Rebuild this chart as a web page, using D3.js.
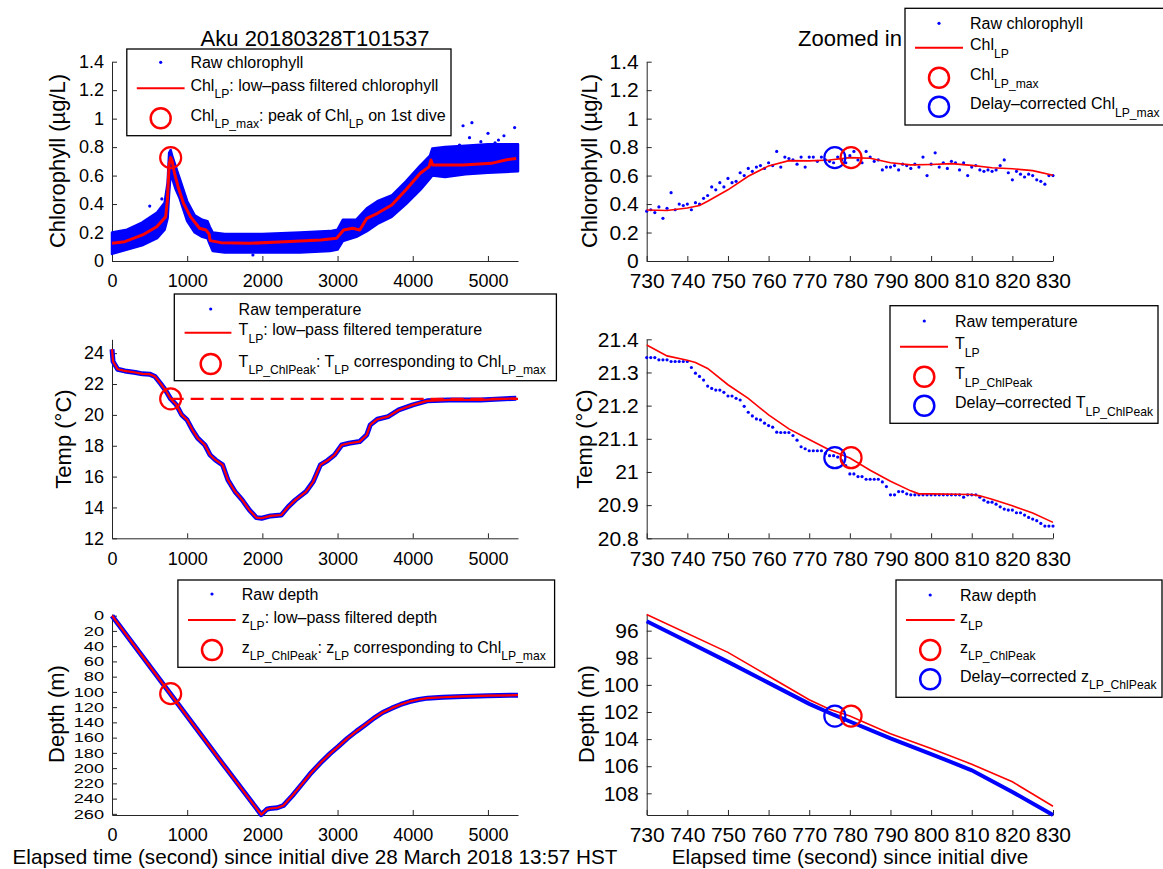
<!DOCTYPE html>
<html>
<head>
<meta charset="utf-8">
<script src="https://cdn.jsdelivr.net/npm/d3@7"></script>
<style>
  html, body { margin: 0; padding: 0; background: #fff; }
  svg { display: block; font-family: "Liberation Sans", Arial, Helvetica, sans-serif; }
</style>
</head>
<body>
<svg id="fig" width="1163" height="869"></svg>
<script>
// ---------- tick labels ----------
const fullTimeTicks = [0, 1000, 2000, 3000, 4000, 5000];
const zoomTimeTicks = [730, 740, 750, 760, 770, 780, 790, 800, 810, 820, 830];
const chlTicks = [0, 0.2, 0.4, 0.6, 0.8, 1, 1.2, 1.4];
const tempTicksFull = [12, 14, 16, 18, 20, 22, 24];
const tempTicksZoom = [20.8, 20.9, 21, 21.1, 21.2, 21.3, 21.4];
const depthTicksFull = [0, 20, 40, 60, 80, 100, 120, 140, 160, 180, 200, 220, 240, 260];
const depthTicksZoom = [96, 98, 100, 102, 104, 106, 108];

// ---------- whole dive: raw chlorophyll spread (lower / upper edge of the cloud) ----------
const chlCloudTime = [0, 200, 400, 600, 700, 740, 760, 780, 800, 850, 900, 1000, 1100, 1200, 1270, 1300, 1340, 1500, 2000, 2500, 2900, 3000, 3070, 3250, 3390, 3530, 3720, 3910, 4100, 4230, 4260, 4430, 4700, 5000, 5400];
const chlCloudLow  = [0.05, 0.08, 0.11, 0.16, 0.22, 0.30, 0.48, 0.62, 0.58, 0.50, 0.44, 0.28, 0.20, 0.17, 0.16, 0.12, 0.07, 0.06, 0.06, 0.06, 0.07, 0.08, 0.14, 0.17, 0.21, 0.26, 0.31, 0.40, 0.50, 0.58, 0.60, 0.59, 0.61, 0.62, 0.63];
const chlCloudHigh = [0.20, 0.22, 0.27, 0.34, 0.41, 0.55, 0.76, 0.78, 0.74, 0.66, 0.58, 0.42, 0.32, 0.29, 0.28, 0.24, 0.20, 0.19, 0.19, 0.20, 0.21, 0.22, 0.29, 0.29, 0.37, 0.42, 0.46, 0.56, 0.67, 0.74, 0.79, 0.80, 0.81, 0.82, 0.82];
// isolated raw chlorophyll samples outside the main cloud
const chlOutlierTime  = [502, 663, 1874, 4395, 4622, 4669, 4755, 4787, 4906, 5001, 5095, 5140, 5213, 5355];
const chlOutlierValue = [0.386, 0.436, 0.042, 0.787, 0.815, 0.95, 0.866, 0.972, 0.838, 0.897, 0.83, 0.85, 0.88, 0.937];

// ---------- whole dive: low-pass filtered chlorophyll ----------
const chlLPTime  = [0, 170, 406, 595, 714, 737, 760, 780, 800, 832, 880, 951, 1046, 1164, 1249, 1290, 1306, 1448, 1827, 2300, 2774, 2987, 3081, 3200, 3295, 3390, 3531, 3721, 3910, 4100, 4218, 4242, 4265, 4668, 5045, 5234, 5376];
const chlLPValue = [0.124, 0.136, 0.183, 0.241, 0.31, 0.43, 0.68, 0.726, 0.70, 0.616, 0.52, 0.405, 0.31, 0.23, 0.218, 0.19, 0.143, 0.129, 0.124, 0.136, 0.148, 0.16, 0.218, 0.23, 0.218, 0.30, 0.335, 0.393, 0.50, 0.616, 0.663, 0.71, 0.674, 0.674, 0.686, 0.71, 0.72];

// ---------- whole dive: temperature ----------
const tempTime  = [0, 14, 75, 170, 312, 406, 501, 572, 643, 714, 780, 856, 927, 998, 1069, 1140, 1235, 1305, 1376, 1471, 1542, 1636, 1731, 1826, 1920, 1991, 2109, 2251, 2346, 2440, 2582, 2677, 2772, 2866, 2961, 3056, 3151, 3293, 3388, 3435, 3530, 3672, 3814, 4003, 4192, 4476, 4903, 5377];
const tempValue = [24.26, 23.46, 22.96, 22.85, 22.75, 22.66, 22.64, 22.49, 22.05, 21.58, 21.04, 20.65, 20.0, 19.68, 19.03, 18.49, 18.05, 17.4, 17.08, 16.76, 15.78, 15.03, 14.49, 13.84, 13.34, 13.3, 13.45, 13.51, 14.05, 14.49, 15.03, 15.68, 16.76, 17.04, 17.41, 18.05, 18.16, 18.27, 18.7, 19.35, 19.72, 19.89, 20.32, 20.65, 20.91, 20.97, 20.97, 21.08];

// ---------- whole dive: depth ----------
const depthTime  = [0, 500, 1000, 1500, 1985, 2060, 2100, 2200, 2280, 2400, 2538, 2650, 2775, 2900, 3012, 3130, 3249, 3370, 3485, 3600, 3722, 3840, 3959, 4080, 4196, 4400, 4670, 5000, 5400];
const depthValue = [0, 66, 132, 198, 261, 254, 253, 252, 249, 236, 219.5, 206, 193, 181, 171.5, 161, 151.8, 143, 134.4, 127, 121.3, 116.5, 112.6, 110, 108.2, 107, 106, 105, 104.3];

// ---------- peak of the low-pass chlorophyll on the first dive ----------
const peakTime = 780.3;           // time of Chl_LP_max
const peakTimeCorrected = 776.3;  // after sensor delay correction
const peakChl = 0.726;
const peakTemp = 21.043;
const peakDepth = 102.3;

// ---------- zoomed window, 1 Hz samples ----------
const zoomTime = [730,731,732,733,734,735,736,737,738,739,740,741,742,743,744,745,746,747,748,749,750,751,752,753,754,755,756,757,758,759,760,761,762,763,764,765,766,767,768,769,770,771,772,773,774,775,776,777,778,779,780,781,782,783,784,785,786,787,788,789,790,791,792,793,794,795,796,797,798,799,800,801,802,803,804,805,806,807,808,809,810,811,812,813,814,815,816,817,818,819,820,821,822,823,824,825,826,827,828,829,830];
const chlRawZoom = [
  0.35,0.36,0.34,0.38,0.30,0.37,0.48,0.36,0.40,0.39,
  0.40,0.36,0.41,0.40,0.44,0.46,0.52,0.50,0.55,0.52,
  0.58,0.55,0.56,0.62,0.60,0.65,0.63,0.66,0.67,0.65,
  0.69,0.67,0.77,0.66,0.73,0.72,0.71,0.68,0.73,0.66,
  0.73,0.73,0.70,0.73,0.71,0.70,0.69,0.73,0.71,0.69,
  0.74,0.77,0.71,0.69,0.77,0.73,0.70,0.71,0.64,0.66,
  0.66,0.67,0.64,0.68,0.67,0.65,0.68,0.66,0.73,0.60,
  0.68,0.76,0.66,0.69,0.65,0.70,0.69,0.64,0.69,0.60,
  0.66,0.67,0.64,0.63,0.64,0.63,0.64,0.67,0.71,0.62,
  0.57,0.63,0.61,0.59,0.61,0.60,0.57,0.56,0.54,0.60,
  0.60];
const tempRawZoom = [
  21.345,21.345,21.345,21.338,21.338,21.338,21.333,21.333,21.333,21.333,
  21.333,21.315,21.298,21.288,21.277,21.259,21.252,21.247,21.247,21.240,
  21.229,21.229,21.222,21.217,21.198,21.180,21.169,21.160,21.157,21.147,
  21.140,21.135,21.120,21.119,21.119,21.119,21.110,21.096,21.076,21.070,
  21.064,21.064,21.064,21.064,21.056,21.049,21.049,21.045,21.034,21.019,
  20.994,20.994,20.986,20.986,20.978,20.978,20.978,20.978,20.970,20.956,
  20.931,20.931,20.941,20.941,20.934,20.931,20.931,20.931,20.931,20.931,
  20.931,20.931,20.931,20.931,20.931,20.931,20.931,20.931,20.924,20.931,
  20.931,20.931,20.924,20.915,20.909,20.909,20.903,20.895,20.888,20.885,
  20.885,20.877,20.877,20.870,20.863,20.858,20.853,20.845,20.837,20.837,
  20.837];

// low-pass curves in the zoomed window
const chlLPZoomTime  = [730, 735, 740, 743, 745, 750, 755, 760, 765, 770, 775, 780, 785, 790, 795, 800, 805, 810, 815, 820, 825, 830];
const chlLPZoomValue = [0.358, 0.355, 0.372, 0.39, 0.42, 0.50, 0.595, 0.668, 0.705, 0.703, 0.710, 0.726, 0.722, 0.690, 0.675, 0.678, 0.684, 0.672, 0.655, 0.648, 0.635, 0.602];
const tempLPZoomTime  = [730, 735, 740, 742, 745, 750, 755, 760, 765, 770, 775, 780, 785, 790, 795, 797, 800, 810, 812, 815, 820, 825, 830];
const tempLPZoomValue = [21.383, 21.350, 21.337, 21.330, 21.312, 21.263, 21.222, 21.172, 21.130, 21.098, 21.066, 21.042, 21.005, 20.972, 20.943, 20.934, 20.934, 20.932, 20.928, 20.918, 20.898, 20.876, 20.848];
const depthRawZoomTime  = [730, 740, 750, 760, 770, 776, 780, 790, 800, 810, 820, 830];
const depthRawZoomValue = [95.3, 96.8, 98.3, 99.85, 101.4, 102.2, 102.7, 103.95, 105.1, 106.3, 107.9, 109.6];
const depthLPZoomTime  = [730, 750, 770, 775, 780, 790, 800, 810, 820, 830];
const depthLPZoomValue = [94.8, 97.6, 101.1, 101.8, 102.3, 103.6, 104.7, 105.85, 107.15, 108.95];

// ---------- drawing ----------
const BLUE = "#0000ff", RED = "#ff0000", AXIS = "#262626";
const svg = d3.select("#fig");
const fmt = d3.format("~g");

const xFull = d3.scaleLinear().domain([0, 5400]).range([112, 518]);
const xZoom = d3.scaleLinear().domain([730, 830]).range([646.7, 1053]);

const yChlL = d3.scaleLinear().domain([0, 1.4]).range([261, 61.7]);
const yChlR = d3.scaleLinear().domain([0, 1.4]).range([261, 61.7]);
const yTempL = d3.scaleLinear().domain([12, 24.9]).range([538.3, 339.3]);
const yTempR = d3.scaleLinear().domain([20.8, 21.4]).range([538.3, 339.3]);
const yDepthL = d3.scaleLinear().domain([-2.2, 261.5]).range([614, 815]);
const yDepthR = d3.scaleLinear().domain([94.77, 109.6]).range([614, 815]);

// opts.yFont / opts.yStretch let densely packed y labels use a narrower line height
function drawAxes(x, y, xTicks, yTicks, fontSize, opts) {
  opts = opts || {};
  const bottom = Math.max(...y.range());
  const gx = svg.append("g")
    .attr("transform", `translate(0,${bottom})`)
    .call(d3.axisBottom(x).tickValues(xTicks).tickSize(-5).tickSizeOuter(0)
      .tickPadding(20 - fontSize * 0.355).tickFormat(fmt));
  const gy = svg.append("g")
    .attr("transform", `translate(${x.range()[0]},0)`)
    .call(d3.axisLeft(y).tickValues(yTicks).tickSize(-5).tickSizeOuter(0)
      .tickPadding(8).tickFormat(fmt));
  [gx, gy].forEach(g => {
    g.attr("font-family", null).attr("font-size", null);
    g.selectAll("path, line").attr("stroke", AXIS).attr("stroke-width", 1);
    g.selectAll("text").attr("fill", "#000").style("font-size", fontSize + "px");
  });
  if (opts.yFont) {
    gy.selectAll("text").style("font-size", opts.yFont + "px")
      .attr("x", 0).attr("transform", `translate(-8,0) scale(${opts.yStretch || 1},1)`);
  }
}

function line(x, y, t, v) {
  return d3.line().x((d, i) => x(t[i])).y((d, i) => y(v[i]))(t);
}

function richText(g, x, y, str, size, anchor) {
  const hasSub = str.includes("_{");
  const t = g.append("text").attr("x", x).attr("y", y + (hasSub ? -3 : 0))
    .attr("dy", "0.35em").attr("text-anchor", anchor || "start")
    .style("font-size", size + "px").attr("fill", "#000");
  const shift = size * 0.45;
  let inSub = false;
  str.split(/(_\{[^}]*\})/).forEach(p => {
    if (!p) return;
    if (p.startsWith("_{")) {
      t.append("tspan").attr("dy", inSub ? 0 : shift)
        .style("font-size", (size * 0.76) + "px").text(p.slice(2, -1));
      inSub = true;
    } else {
      const ts = t.append("tspan").text(p);
      if (inSub) ts.attr("dy", -shift);
      inSub = false;
    }
  });
  return t;
}

function legend(cfg) {
  const g = svg.append("g");
  const [x0, y0, x1, y1] = cfg.box;
  g.append("rect").attr("x", x0).attr("y", y0).attr("width", x1 - x0).attr("height", y1 - y0)
    .attr("fill", "#fff").attr("stroke", "#000").attr("stroke-width", 1.3);
  cfg.entries.forEach(e => {
    if (e.type === "dot") {
      g.append("circle").attr("cx", cfg.markX).attr("cy", e.y).attr("r", 1.6).attr("fill", BLUE);
    } else if (e.type === "line") {
      g.append("line").attr("x1", cfg.lineX[0]).attr("x2", cfg.lineX[1])
        .attr("y1", e.y).attr("y2", e.y).attr("stroke", RED).attr("stroke-width", 2);
    } else {
      g.append("circle").attr("cx", cfg.markX).attr("cy", e.y).attr("r", 10)
        .attr("fill", "none").attr("stroke", e.color).attr("stroke-width", 2.5);
    }
    richText(g, cfg.textX, e.y, e.label, cfg.font);
  });
}

function ring(x, y, cx, cy, color) {
  svg.append("circle").attr("cx", x(cx)).attr("cy", y(cy)).attr("r", 10.5)
    .attr("fill", "none").attr("stroke", color).attr("stroke-width", 2.2);
}

// ----- top left: chlorophyll, whole dive -----
drawAxes(xFull, yChlL, fullTimeTicks, chlTicks, 18);
svg.append("path")
  .attr("d", d3.area().x((d, i) => xFull(chlCloudTime[i]))
    .y0((d, i) => yChlL(chlCloudLow[i])).y1((d, i) => yChlL(chlCloudHigh[i]))(chlCloudTime))
  .attr("fill", BLUE).attr("stroke", BLUE).attr("stroke-width", 2.5).attr("stroke-linejoin", "round");
svg.append("g").selectAll("circle").data(chlOutlierTime).join("circle")
  .attr("cx", (d) => xFull(d)).attr("cy", (d, i) => yChlL(chlOutlierValue[i]))
  .attr("r", 1.6).attr("fill", BLUE);
svg.append("path").attr("d", line(xFull, yChlL, chlLPTime, chlLPValue))
  .attr("fill", "none").attr("stroke", RED).attr("stroke-width", 3).attr("stroke-linejoin", "round");
ring(xFull, yChlL, peakTime, peakChl, RED);

// ----- top right: chlorophyll, zoomed -----
drawAxes(xZoom, yChlR, zoomTimeTicks, chlTicks, 21);
svg.append("g").selectAll("circle").data(zoomTime).join("circle")
  .attr("cx", d => xZoom(d)).attr("cy", (d, i) => yChlR(chlRawZoom[i]))
  .attr("r", 1.6).attr("fill", BLUE);
svg.append("path").attr("d", line(xZoom, yChlR, chlLPZoomTime, chlLPZoomValue))
  .attr("fill", "none").attr("stroke", RED).attr("stroke-width", 1.6);
ring(xZoom, yChlR, peakTimeCorrected, peakChl, BLUE);
ring(xZoom, yChlR, peakTime, peakChl, RED);

// ----- middle left: temperature, whole dive -----
drawAxes(xFull, yTempL, fullTimeTicks, tempTicksFull, 18);
svg.append("path").attr("d", line(xFull, yTempL, tempTime, tempValue))
  .attr("fill", "none").attr("stroke", BLUE).attr("stroke-width", 5).attr("stroke-linejoin", "round");
svg.append("path").attr("d", line(xFull, yTempL, tempTime, tempValue))
  .attr("fill", "none").attr("stroke", RED).attr("stroke-width", 2.2).attr("stroke-linejoin", "round");
svg.append("line").attr("x1", xFull(peakTime)).attr("x2", xFull(5400))
  .attr("y1", yTempL(peakTemp)).attr("y2", yTempL(peakTemp))
  .attr("stroke", RED).attr("stroke-width", 2.2).attr("stroke-dasharray", "13,7");
ring(xFull, yTempL, peakTime, peakTemp, RED);

// ----- middle right: temperature, zoomed -----
drawAxes(xZoom, yTempR, zoomTimeTicks, tempTicksZoom, 21);
svg.append("g").selectAll("circle").data(zoomTime).join("circle")
  .attr("cx", d => xZoom(d)).attr("cy", (d, i) => yTempR(tempRawZoom[i]))
  .attr("r", 1.6).attr("fill", BLUE);
svg.append("path").attr("d", line(xZoom, yTempR, tempLPZoomTime, tempLPZoomValue))
  .attr("fill", "none").attr("stroke", RED).attr("stroke-width", 1.6);
ring(xZoom, yTempR, peakTimeCorrected, peakTemp, BLUE);
ring(xZoom, yTempR, peakTime, peakTemp, RED);

// ----- bottom left: depth, whole dive -----
drawAxes(xFull, yDepthL, fullTimeTicks, depthTicksFull, 18, { yFont: 13, yStretch: 1.4 });
svg.append("path").attr("d", line(xFull, yDepthL, depthTime, depthValue))
  .attr("fill", "none").attr("stroke", BLUE).attr("stroke-width", 5).attr("stroke-linejoin", "round");
svg.append("path").attr("d", line(xFull, yDepthL, depthTime, depthValue))
  .attr("fill", "none").attr("stroke", RED).attr("stroke-width", 2.2).attr("stroke-linejoin", "round");
ring(xFull, yDepthL, peakTime, peakDepth, RED);

// ----- bottom right: depth, zoomed -----
drawAxes(xZoom, yDepthR, zoomTimeTicks, depthTicksZoom, 21);
svg.append("path").attr("d", line(xZoom, yDepthR, depthRawZoomTime, depthRawZoomValue))
  .attr("fill", "none").attr("stroke", BLUE).attr("stroke-width", 4);
svg.append("path").attr("d", line(xZoom, yDepthR, depthLPZoomTime, depthLPZoomValue))
  .attr("fill", "none").attr("stroke", RED).attr("stroke-width", 1.6);
ring(xZoom, yDepthR, peakTimeCorrected, peakDepth, BLUE);
ring(xZoom, yDepthR, peakTime, peakDepth, RED);

// ----- titles and axis labels -----
function label(x, y, str, size, rotate) {
  const t = svg.append("text").attr("text-anchor", "middle").attr("dy", "0.35em")
    .style("font-size", size + "px").attr("fill", "#000").text(str);
  if (rotate) t.attr("transform", `translate(${x},${y}) rotate(-90)`);
  else t.attr("x", x).attr("y", y);
}
label(315, 38, "Aku 20180328T101537", 22);
label(850, 38, "Zoomed in", 22);
label(57, 161, "Chlorophyll (\u00b5g/L)", 22, true);
label(589, 161, "Chlorophyll (\u00b5g/L)", 22, true);
label(63, 439, "Temp (\u00b0C)", 22, true);
label(584, 439, "Temp (\u00b0C)", 22, true);
label(56, 714, "Depth (m)", 22, true);
label(586, 714, "Depth (m)", 22, true);
label(315, 857, "Elapsed time (second) since initial dive 28 March 2018 13:57 HST", 20.7);
label(850, 857, "Elapsed time (second) since initial dive", 20.7);

// ----- legends -----
legend({
  box: [126.8, 49, 451, 135.7], markX: 160.7, lineX: [136.8, 184.6], textX: 190.4, font: 16,
  entries: [
    { type: "dot", y: 62.3, label: "Raw chlorophyll" },
    { type: "line", y: 88.3, label: "Chl_{LP}: low\u2013pass filtered chlorophyll" },
    { type: "ring", color: RED, y: 118.3, label: "Chl_{LP_max}: peak of Chl_{LP} on 1st dive" }
  ]
});
legend({
  box: [905, 8.3, 1175, 125], markX: 939, lineX: [915, 963], textX: 970, font: 16,
  entries: [
    { type: "dot", y: 23.3, label: "Raw chlorophyll" },
    { type: "line", y: 47.7, label: "Chl_{LP}" },
    { type: "ring", color: RED, y: 77.7, label: "Chl_{LP_max}" },
    { type: "ring", color: BLUE, y: 106.7, label: "Delay\u2013corrected Chl_{LP_max}" }
  ]
});
legend({
  box: [174.3, 294, 556.4, 380.7], markX: 210.7, lineX: [184.6, 231.4], textX: 238.6, font: 16,
  entries: [
    { type: "dot", y: 309, label: "Raw temperature" },
    { type: "line", y: 332.7, label: "T_{LP}: low\u2013pass filtered temperature" },
    { type: "ring", color: RED, y: 364, label: "T_{LP_ChlPeak}: T_{LP} corresponding to Chl_{LP_max}" }
  ]
});
legend({
  box: [890, 305.7, 1158, 423.3], markX: 924.3, lineX: [900, 948], textX: 955, font: 16,
  entries: [
    { type: "dot", y: 321, label: "Raw temperature" },
    { type: "line", y: 346.7, label: "T_{LP}" },
    { type: "ring", color: RED, y: 376.7, label: "T_{LP_ChlPeak}" },
    { type: "ring", color: BLUE, y: 405.7, label: "Delay\u2013corrected T_{LP_ChlPeak}" }
  ]
});
legend({
  box: [177.9, 580, 554.6, 667.3], markX: 212, lineX: [188, 235.7], textX: 241.8, font: 16,
  entries: [
    { type: "dot", y: 594, label: "Raw depth" },
    { type: "line", y: 620, label: "z_{LP}: low\u2013pass filtered depth" },
    { type: "ring", color: RED, y: 650, label: "z_{LP_ChlPeak}: z_{LP} corresponding to Chl_{LP_max}" }
  ]
});
legend({
  box: [896, 580, 1162, 697.3], markX: 930.2, lineX: [906, 954.7], textX: 960, font: 16,
  entries: [
    { type: "dot", y: 595, label: "Raw depth" },
    { type: "line", y: 620, label: "z_{LP}" },
    { type: "ring", color: RED, y: 650, label: "z_{LP_ChlPeak}" },
    { type: "ring", color: BLUE, y: 679.3, label: "Delay\u2013corrected z_{LP_ChlPeak}" }
  ]
});
</script>
</body>
</html>
